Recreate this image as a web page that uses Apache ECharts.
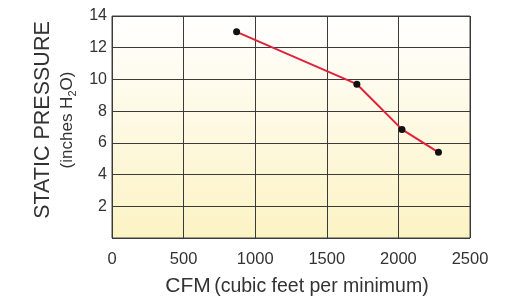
<!DOCTYPE html>
<html><head><meta charset="utf-8">
<script src="https://cdn.jsdelivr.net/npm/echarts@6/dist/echarts.min.js"></script>
<style>html,body{margin:0;padding:0;background:#fff}#c{width:517px;height:302px}</style>
</head><body><div id="c"></div>
<script>
const cfm = [870, 1710, 2025, 2280];
const pressure = [13.0, 9.7, 6.85, 5.4];
const xTicks = [0, 500, 1000, 1500, 2000, 2500];
const yTicks = [2, 4, 6, 8, 10, 12, 14];

const chart = echarts.init(document.getElementById('c'));
const font = 'Liberation Sans, Arial, sans-serif';
chart.setOption({
  animation: false,
  grid: {
    left: 112, right: 47, top: 16, bottom: 63,
    show: true, borderWidth: 1, borderColor: '#444',
    backgroundColor: new echarts.graphic.LinearGradient(0, 0, 0, 1, [
      {offset: 0, color: '#ffffff'}, {offset: 1, color: '#fcf3c4'}
    ])
  },
  xAxis: {
    type: 'value', min: 0, max: 2500, interval: 500,
    axisLine: {show: false}, axisTick: {show: false},
    splitLine: {lineStyle: {color: '#3a3a3a', width: 1}},
    axisLabel: {color: '#333', fontSize: 16.5, fontFamily: font, margin: 13,
      formatter: v => xTicks.includes(v) ? String(v) : ''},
    name: '{a|CFM} {b|(cubic feet per minimum)}',
    nameLocation: 'middle', nameGap: 38,
    nameTextStyle: {padding: [0, 0, 0, 12], rich: {
      a: {fontSize: 21, color: '#333', fontFamily: font},
      b: {fontSize: 19.5, color: '#333', fontFamily: font}
    }}
  },
  yAxis: {
    type: 'value', min: 0, max: 14, interval: 2,
    axisLine: {show: false}, axisTick: {show: false},
    splitLine: {lineStyle: {color: '#3a3a3a', width: 1}},
    axisLabel: {color: '#333', fontSize: 16, fontFamily: font, margin: 5,
      formatter: v => yTicks.includes(v) ? String(v) : ''},
    name: '{a|STATIC PRESSURE}\n{b|(inches H}{s|2}{b|O)}',
    nameLocation: 'middle', nameRotate: 90, nameGap: 32,
    nameTextStyle: {padding: [0, 0, 0, 14], rich: {
      a: {fontSize: 21.5, color: '#333', fontFamily: font, lineHeight: 26},
      b: {fontSize: 17, color: '#333', fontFamily: font, lineHeight: 22},
      s: {fontSize: 11, color: '#333', fontFamily: font, lineHeight: 22, verticalAlign: 'bottom'}
    }}
  },
  series: [{
    type: 'line',
    data: cfm.map((x, i) => [x, pressure[i]]),
    lineStyle: {color: '#e1203c', width: 2},
    symbol: 'circle', symbolSize: 7,
    itemStyle: {color: '#111'}
  }]
});
</script></body></html>
